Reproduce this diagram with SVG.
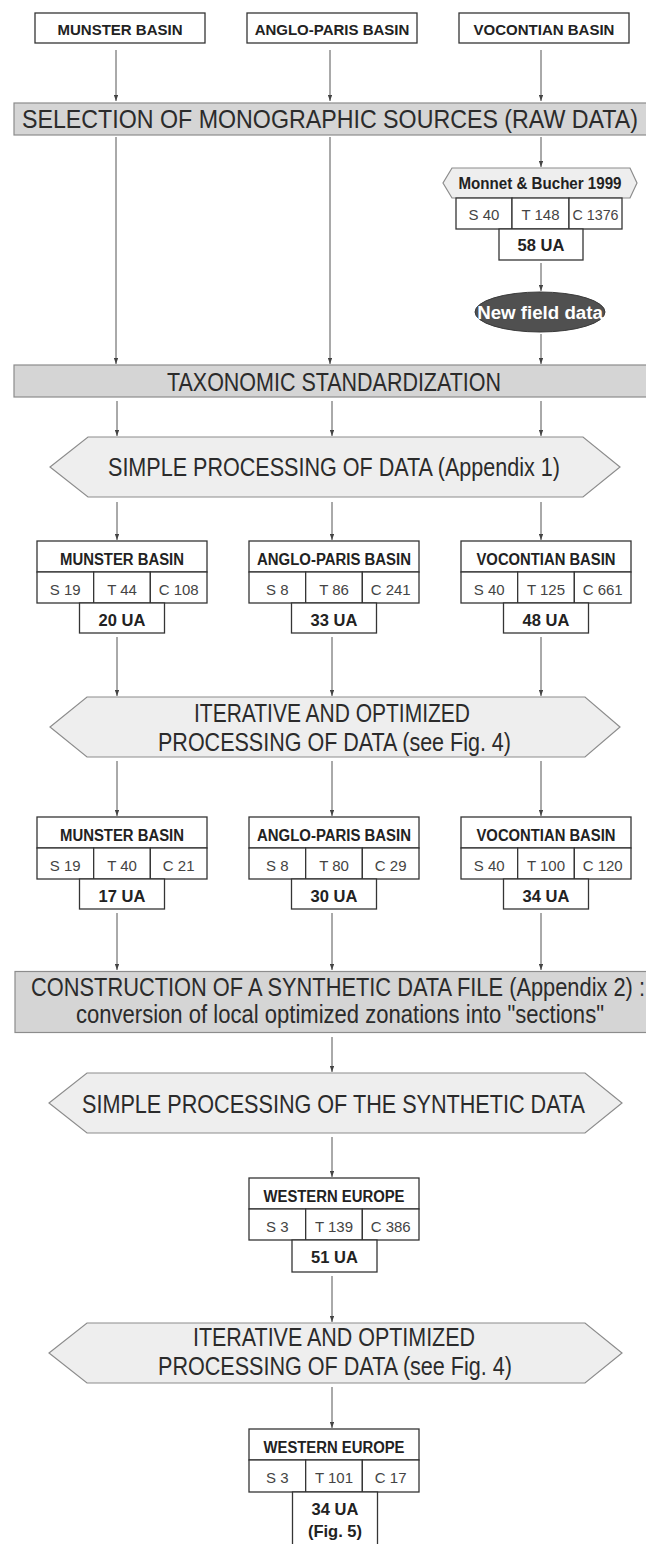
<svg xmlns="http://www.w3.org/2000/svg" width="646" height="1544" viewBox="0 0 646 1544">
<defs>
<marker id="ah" viewBox="0 0 6 4.4" refX="6" refY="2.2" markerWidth="6" markerHeight="4.4" markerUnits="userSpaceOnUse" orient="auto"><path d="M0,0 L6,2.2 L0,4.4 z" fill="#444"/></marker>
</defs>
<style>
.bar{fill:#d5d5d5;stroke:#8c8c8c;stroke-width:1.2}
.hex{fill:#eeeeee;stroke:#8c8c8c;stroke-width:1.2}
.box{fill:#fff;stroke:#353535;stroke-width:1.3}
.big{font-family:"Liberation Sans Narrow","Liberation Sans",Arial,sans-serif;font-size:26px;fill:#2b2b2b;text-anchor:middle}
.ttl{font-family:"Liberation Sans",Arial,sans-serif;font-size:16px;font-weight:bold;fill:#222;text-anchor:middle}
.top{font-family:"Liberation Sans",Arial,sans-serif;font-size:15px;font-weight:bold;fill:#222;text-anchor:middle}
.cell{font-family:"Liberation Sans",Arial,sans-serif;font-size:15px;fill:#444;text-anchor:middle}
.ua{font-family:"Liberation Sans",Arial,sans-serif;font-size:16.5px;font-weight:bold;fill:#222;text-anchor:middle}
.nfd{font-family:"Liberation Sans",Arial,sans-serif;font-size:18.7px;font-weight:bold;fill:#fff;text-anchor:middle}
.conn line{stroke:#555;stroke-width:1;marker-end:url(#ah)}
</style>
<rect width="646" height="1544" fill="#fff"/>

<g id="src-munster" transform="translate(35,13)"><rect class="box" width="170" height="30"/><text class="top" x="85" y="22">MUNSTER BASIN</text></g>
<g id="src-anglo" transform="translate(247,13)"><rect class="box" width="170" height="30"/><text class="top" x="85" y="22">ANGLO-PARIS BASIN</text></g>
<g id="src-vocontian" transform="translate(459,13)"><rect class="box" width="170" height="30"/><text class="top" x="85" y="22">VOCONTIAN BASIN</text></g>

<g id="selection"><rect class="bar" x="14" y="103" width="640" height="32"/><text class="big" x="330" y="127.5" textLength="616" lengthAdjust="spacingAndGlyphs">SELECTION OF MONOGRAPHIC SOURCES (RAW DATA)</text></g>

<g id="monnet">
<polygon class="hex" points="452,168 630,168 637,183 630,198 452,198 443,183"/>
<text class="ttl" x="540" y="189" textLength="163" lengthAdjust="spacingAndGlyphs">Monnet &amp; Bucher 1999</text>
<rect class="box" x="456" y="198" width="56" height="31"/><rect class="box" x="512" y="198" width="57" height="31"/><rect class="box" x="569" y="198" width="53" height="31"/>
<text class="cell" x="484" y="220">S 40</text><text class="cell" x="540.5" y="220">T 148</text><text class="cell" x="595.5" y="220" textLength="46" lengthAdjust="spacingAndGlyphs">C 1376</text>
<rect class="box" x="499" y="229" width="84" height="31"/><text class="ua" x="541" y="251">58 UA</text>
</g>

<g id="newfield"><ellipse cx="540" cy="312" rx="65" ry="20" fill="#505050" stroke="#3a3a3a"/><text class="nfd" x="540" y="318.5">New field data</text></g>

<g id="taxonomic"><rect class="bar" x="14" y="365" width="640" height="32"/><text class="big" x="334" y="390.5" textLength="334" lengthAdjust="spacingAndGlyphs">TAXONOMIC STANDARDIZATION</text></g>

<g id="simple1"><polygon class="hex" points="88,437 583,437 620,467 583,497 88,497 50,467"/><text class="big" x="334" y="475.5" textLength="452" lengthAdjust="spacingAndGlyphs">SIMPLE PROCESSING OF DATA (Appendix 1)</text></g>

<g id="r1-munster" transform="translate(37,541)">
<rect class="box" width="170" height="31"/><text class="ttl" x="85" y="23.5" textLength="124" lengthAdjust="spacingAndGlyphs">MUNSTER BASIN</text>
<rect class="box" y="31" width="56.67" height="31"/><rect class="box" x="56.67" y="31" width="56.67" height="31"/><rect class="box" x="113.33" y="31" width="56.67" height="31"/>
<text class="cell" x="28.3" y="53.5">S 19</text><text class="cell" x="85" y="53.5">T 44</text><text class="cell" x="141.7" y="53.5">C 108</text>
<rect class="box" x="42.5" y="62" width="85" height="30"/><text class="ua" x="85" y="84.5">20 UA</text>
</g>
<g id="r1-anglo" transform="translate(249,541)">
<rect class="box" width="170" height="31"/><text class="ttl" x="85" y="23.5" textLength="154" lengthAdjust="spacingAndGlyphs">ANGLO-PARIS BASIN</text>
<rect class="box" y="31" width="56.67" height="31"/><rect class="box" x="56.67" y="31" width="56.67" height="31"/><rect class="box" x="113.33" y="31" width="56.67" height="31"/>
<text class="cell" x="28.3" y="53.5">S 8</text><text class="cell" x="85" y="53.5">T 86</text><text class="cell" x="141.7" y="53.5">C 241</text>
<rect class="box" x="42.5" y="62" width="85" height="30"/><text class="ua" x="85" y="84.5">33 UA</text>
</g>
<g id="r1-vocontian" transform="translate(461,541)">
<rect class="box" width="170" height="31"/><text class="ttl" x="85" y="23.5" textLength="139" lengthAdjust="spacingAndGlyphs">VOCONTIAN BASIN</text>
<rect class="box" y="31" width="56.67" height="31"/><rect class="box" x="56.67" y="31" width="56.67" height="31"/><rect class="box" x="113.33" y="31" width="56.67" height="31"/>
<text class="cell" x="28.3" y="53.5">S 40</text><text class="cell" x="85" y="53.5">T 125</text><text class="cell" x="141.7" y="53.5">C 661</text>
<rect class="box" x="42.5" y="62" width="85" height="30"/><text class="ua" x="85" y="84.5">48 UA</text>
</g>

<g id="iter1"><polygon class="hex" points="87,697 585,697 620,727 585,757 87,757 50,727"/>
<text class="big" x="332" y="721.5" textLength="276" lengthAdjust="spacingAndGlyphs">ITERATIVE AND OPTIMIZED</text>
<text class="big" x="334.5" y="751" textLength="353" lengthAdjust="spacingAndGlyphs">PROCESSING OF DATA (see Fig. 4)</text></g>

<g id="r2-munster" transform="translate(37,817)">
<rect class="box" width="170" height="31"/><text class="ttl" x="85" y="23.5" textLength="124" lengthAdjust="spacingAndGlyphs">MUNSTER BASIN</text>
<rect class="box" y="31" width="56.67" height="31"/><rect class="box" x="56.67" y="31" width="56.67" height="31"/><rect class="box" x="113.33" y="31" width="56.67" height="31"/>
<text class="cell" x="28.3" y="53.5">S 19</text><text class="cell" x="85" y="53.5">T 40</text><text class="cell" x="141.7" y="53.5">C 21</text>
<rect class="box" x="42.5" y="62" width="85" height="30"/><text class="ua" x="85" y="84.5">17 UA</text>
</g>
<g id="r2-anglo" transform="translate(249,817)">
<rect class="box" width="170" height="31"/><text class="ttl" x="85" y="23.5" textLength="154" lengthAdjust="spacingAndGlyphs">ANGLO-PARIS BASIN</text>
<rect class="box" y="31" width="56.67" height="31"/><rect class="box" x="56.67" y="31" width="56.67" height="31"/><rect class="box" x="113.33" y="31" width="56.67" height="31"/>
<text class="cell" x="28.3" y="53.5">S 8</text><text class="cell" x="85" y="53.5">T 80</text><text class="cell" x="141.7" y="53.5">C 29</text>
<rect class="box" x="42.5" y="62" width="85" height="30"/><text class="ua" x="85" y="84.5">30 UA</text>
</g>
<g id="r2-vocontian" transform="translate(461,817)">
<rect class="box" width="170" height="31"/><text class="ttl" x="85" y="23.5" textLength="139" lengthAdjust="spacingAndGlyphs">VOCONTIAN BASIN</text>
<rect class="box" y="31" width="56.67" height="31"/><rect class="box" x="56.67" y="31" width="56.67" height="31"/><rect class="box" x="113.33" y="31" width="56.67" height="31"/>
<text class="cell" x="28.3" y="53.5">S 40</text><text class="cell" x="85" y="53.5">T 100</text><text class="cell" x="141.7" y="53.5">C 120</text>
<rect class="box" x="42.5" y="62" width="85" height="30"/><text class="ua" x="85" y="84.5">34 UA</text>
</g>

<g id="construction"><rect class="bar" x="15" y="971.5" width="640" height="61"/>
<text class="big" x="338" y="995.5" textLength="614" lengthAdjust="spacingAndGlyphs">CONSTRUCTION OF A SYNTHETIC DATA FILE (Appendix 2) :</text>
<text class="big" x="340" y="1022.5" textLength="528" lengthAdjust="spacingAndGlyphs">conversion of local optimized zonations into "sections"</text></g>

<g id="simple2"><polygon class="hex" points="87,1073 585,1073 622,1103 585,1133 87,1133 49,1103"/><text class="big" x="333.5" y="1112.5" textLength="503" lengthAdjust="spacingAndGlyphs">SIMPLE PROCESSING OF THE SYNTHETIC DATA</text></g>

<g id="we1" transform="translate(249,1178)">
<rect class="box" width="170" height="31"/><text class="ttl" x="85" y="23.5" textLength="141" lengthAdjust="spacingAndGlyphs">WESTERN EUROPE</text>
<rect class="box" y="31" width="56.67" height="31"/><rect class="box" x="56.67" y="31" width="56.67" height="31"/><rect class="box" x="113.33" y="31" width="56.67" height="31"/>
<text class="cell" x="28.3" y="53.7">S 3</text><text class="cell" x="85" y="53.7">T 139</text><text class="cell" x="141.7" y="53.7">C 386</text>
<rect class="box" x="43" y="62" width="85" height="32"/><text class="ua" x="85.5" y="85.3">51 UA</text>
</g>

<g id="iter2"><polygon class="hex" points="87,1323 585,1323 622,1353 585,1383 87,1383 49,1353"/>
<text class="big" x="334" y="1346" textLength="282" lengthAdjust="spacingAndGlyphs">ITERATIVE AND OPTIMIZED</text>
<text class="big" x="335" y="1375" textLength="354" lengthAdjust="spacingAndGlyphs">PROCESSING OF DATA (see Fig. 4)</text></g>

<g id="we2" transform="translate(249,1429)">
<rect class="box" width="170" height="31"/><text class="ttl" x="85" y="23.5" textLength="141" lengthAdjust="spacingAndGlyphs">WESTERN EUROPE</text>
<rect class="box" y="31" width="56.67" height="32"/><rect class="box" x="56.67" y="31" width="56.67" height="32"/><rect class="box" x="113.33" y="31" width="56.67" height="32"/>
<text class="cell" x="28.3" y="54">S 3</text><text class="cell" x="85" y="54">T 101</text><text class="cell" x="141.7" y="54">C 17</text>
<rect class="box" x="43.5" y="63" width="85" height="70"/><text class="ua" x="86" y="86">34 UA</text><text class="ua" x="86" y="108">(Fig. 5)</text>
</g>

<g id="connectors" class="conn">
<line x1="116" y1="50" x2="116" y2="101"/><line x1="330" y1="50" x2="330" y2="101"/><line x1="541" y1="50" x2="541" y2="101"/>
<line x1="116" y1="137" x2="116" y2="364"/><line x1="330" y1="137" x2="330" y2="364"/>
<line x1="541" y1="137" x2="541" y2="167"/><line x1="541" y1="263" x2="541" y2="291"/><line x1="541" y1="334" x2="541" y2="364"/>
<line x1="117" y1="401" x2="117" y2="436"/><line x1="332" y1="401" x2="332" y2="436"/><line x1="541" y1="401" x2="541" y2="436"/>
<line x1="117" y1="502" x2="117" y2="540"/><line x1="332" y1="502" x2="332" y2="540"/><line x1="541" y1="502" x2="541" y2="540"/>
<line x1="117" y1="637" x2="117" y2="696"/><line x1="332" y1="637" x2="332" y2="696"/><line x1="541" y1="637" x2="541" y2="696"/>
<line x1="117" y1="761" x2="117" y2="816"/><line x1="332" y1="761" x2="332" y2="816"/><line x1="541" y1="761" x2="541" y2="816"/>
<line x1="117" y1="913" x2="117" y2="970"/><line x1="332" y1="913" x2="332" y2="970"/><line x1="541" y1="913" x2="541" y2="970"/>
<line x1="332" y1="1037" x2="332" y2="1072"/>
<line x1="332" y1="1137" x2="332" y2="1177"/>
<line x1="332" y1="1276" x2="332" y2="1322"/>
<line x1="332" y1="1387" x2="332" y2="1428"/>
</g>
</svg>
